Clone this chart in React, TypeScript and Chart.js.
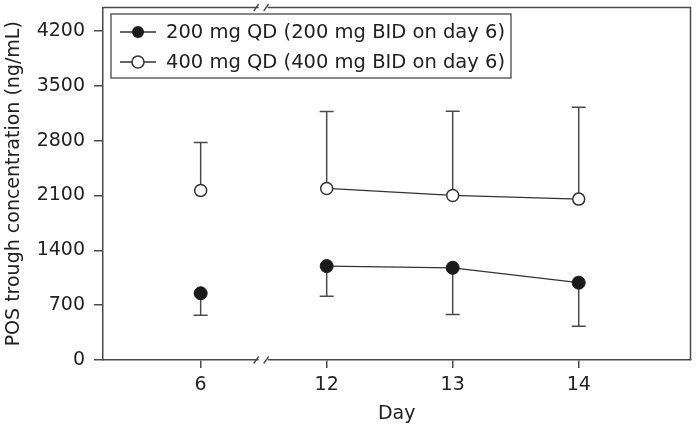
import { useEffect, useRef } from 'react';
import { Chart, registerables } from 'chart.js';

Chart.register(...registerables);

const dayLabels = ['6', '12', '13', '14'];
const dayPositions = [0, 1, 2, 3];
const qd200Mean = [852, 1199, 1177, 987];
const qd200Lower = [570, 814, 582, 430];
const qd400Mean = [2165, 2190, 2101, 2054];
const qd400Upper = [2776, 3173, 3177, 3228];
const yTickValues = [0, 700, 1400, 2100, 2800, 3500, 4200];
const seriesNames = ['200 mg QD (200 mg BID on day 6)', '400 mg QD (400 mg BID on day 6)'];
const xTitle = 'Day';
const yTitle = 'POS trough concentration (ng/mL)';

const FONT = '"DejaVu Sans", sans-serif';
const TEXT = '#222';
const AXIS = '#4a4a4a';

// line data: day 6 is not connected to day 12 (axis break), insert a gap
function lineData(vals: number[]) {
  const out: { x: number; y: number | null }[] = [];
  dayPositions.forEach((p, i) => {
    out.push({ x: p, y: vals[i] });
    if (i === 0) out.push({ x: (dayPositions[0] + dayPositions[1]) / 2, y: null });
  });
  return out;
}

const errorBarPlugin = {
  id: 'errorBars',
  beforeDatasetsDraw(chart: any) {
    const { ctx, scales } = chart;
    const xs = scales.x, ys = scales.y;
    ctx.save();
    ctx.strokeStyle = AXIS;
    ctx.lineWidth = 1.5;
    const cap = 7;
    const draw = (mean: number[], ends: number[]) => {
      dayPositions.forEach((p, i) => {
        const x = xs.getPixelForValue(p);
        const y0 = ys.getPixelForValue(mean[i]);
        const y1 = ys.getPixelForValue(ends[i]);
        ctx.beginPath();
        ctx.moveTo(x, y0);
        ctx.lineTo(x, y1);
        ctx.moveTo(x - cap, y1);
        ctx.lineTo(x + cap, y1);
        ctx.stroke();
      });
    };
    draw(qd200Mean, qd200Lower);
    draw(qd400Mean, qd400Upper);
    ctx.restore();
  },
};

const framePlugin = {
  id: 'frame',
  afterDraw(chart: any) {
    const { ctx, chartArea } = chart;
    const { left, right, top, bottom } = chartArea;
    ctx.save();
    ctx.strokeStyle = AXIS;
    ctx.lineWidth = 1.5;
    ctx.beginPath();
    ctx.moveTo(left, top);
    ctx.lineTo(right, top);
    ctx.lineTo(right, bottom);
    ctx.stroke();

    // axis break marks between day 6 and day 12
    const bx = chart.scales.x.getPixelForValue((dayPositions[0] + dayPositions[1]) / 2);
    [top, bottom].forEach((y) => {
      ctx.fillStyle = '#fff';
      ctx.fillRect(bx - 5, y - 2, 9, 4);
      ctx.strokeStyle = AXIS;
      ctx.lineWidth = 1.3;
      ctx.beginPath();
      ctx.moveTo(bx - 10, y + 3.5);
      ctx.lineTo(bx - 5, y - 3.5);
      ctx.moveTo(bx, y + 3.5);
      ctx.lineTo(bx + 5, y - 3.5);
      ctx.stroke();
    });

    // legend
    const lx = 111, ly = 14, lw = 400, lh = 64;
    ctx.fillStyle = '#fff';
    ctx.fillRect(lx, ly, lw, lh);
    ctx.strokeStyle = AXIS;
    ctx.lineWidth = 1.3;
    ctx.strokeRect(lx, ly, lw, lh);
    const rows = [32, 62];
    rows.forEach((ry, i) => {
      ctx.strokeStyle = '#333';
      ctx.lineWidth = 1.3;
      ctx.beginPath();
      ctx.moveTo(120, ry);
      ctx.lineTo(156, ry);
      ctx.stroke();
      ctx.beginPath();
      ctx.arc(138, ry, 6, 0, Math.PI * 2);
      if (i === 0) {
        ctx.fillStyle = '#1a1a1a';
        ctx.fill();
      } else {
        ctx.fillStyle = '#fff';
        ctx.fill();
        ctx.lineWidth = 1.5;
        ctx.stroke();
      }
      ctx.fillStyle = TEXT;
      ctx.font = `19.5px ${FONT}`;
      ctx.textBaseline = 'middle';
      ctx.textAlign = 'left';
      ctx.fillText(seriesNames[i], 166, ry + 1);
    });
    ctx.restore();
  },
};

export default function App() {
  const ref = useRef<HTMLCanvasElement>(null);
  useEffect(() => {
    if (!ref.current) return;
    const chart = new Chart(ref.current, {
      type: 'line',
      data: {
        datasets: [
          {
            label: seriesNames[0],
            data: lineData(qd200Mean) as any,
            borderColor: '#333',
            borderWidth: 1.3,
            pointRadius: 6.5,
            pointBackgroundColor: '#1a1a1a',
            pointBorderColor: '#1a1a1a',
            pointBorderWidth: 1,
            spanGaps: false,
          },
          {
            label: seriesNames[1],
            data: lineData(qd400Mean) as any,
            borderColor: '#333',
            borderWidth: 1.3,
            pointRadius: 6,
            pointBackgroundColor: '#fff',
            pointBorderColor: '#333',
            pointBorderWidth: 1.5,
            spanGaps: false,
          },
        ],
      },
      options: {
        animation: false,
        responsive: false,
        maintainAspectRatio: false,
        layout: { padding: { top: 4, right: 2, left: 0, bottom: 0 } },
        plugins: { legend: { display: false }, tooltip: { enabled: false } },
        scales: {
          x: {
            type: 'linear',
            min: -0.775,
            max: 3.887,
            afterFit: (s: any) => {
              s.height = 71;
              s.paddingLeft = 0;
              s.paddingRight = 0;
            },
            afterBuildTicks: (s: any) => { s.ticks = dayPositions.map((v) => ({ value: v })); },
            ticks: {
              callback: (v: any) => dayLabels[dayPositions.indexOf(Number(v))] ?? '',
              font: { family: FONT, size: 19 },
              color: TEXT,
              padding: 6,
              maxRotation: 0,
              autoSkip: false,
            },
            grid: { drawOnChartArea: false, drawTicks: true, tickLength: 8, color: AXIS, lineWidth: 1.5 },
            border: { display: true, color: AXIS, width: 1.5 },
            title: { display: true, text: xTitle, font: { family: FONT, size: 19 }, color: TEXT, padding: { top: 0, bottom: 6 } },
          },
          y: {
            type: 'linear',
            min: 0,
            max: 4500,
            afterFit: (s: any) => {
              s.width = 103;
              s.paddingTop = 0;
              s.paddingBottom = 0;
            },
            afterBuildTicks: (s: any) => { s.ticks = yTickValues.map((v) => ({ value: v })); },
            ticks: {
              font: { family: FONT, size: 19 },
              color: TEXT,
              padding: 9,
              callback: (v: any) => String(v),
            },
            grid: { drawOnChartArea: false, drawTicks: true, tickLength: 9, color: AXIS, lineWidth: 1.5 },
            border: { display: true, color: AXIS, width: 1.5 },
            title: { display: true, text: yTitle, font: { family: FONT, size: 19 }, color: TEXT, padding: { top: 3, bottom: 0 } },
          },
        },
      },
      plugins: [errorBarPlugin, framePlugin],
    });
    return () => chart.destroy();
  }, []);
  return (
    <div style={{ position: 'fixed', left: 0, top: 0, width: 698, height: 431, background: '#fff' }}>
      <canvas ref={ref} width={698} height={431} style={{ width: 698, height: 431, display: 'block' }} />
    </div>
  );
}
